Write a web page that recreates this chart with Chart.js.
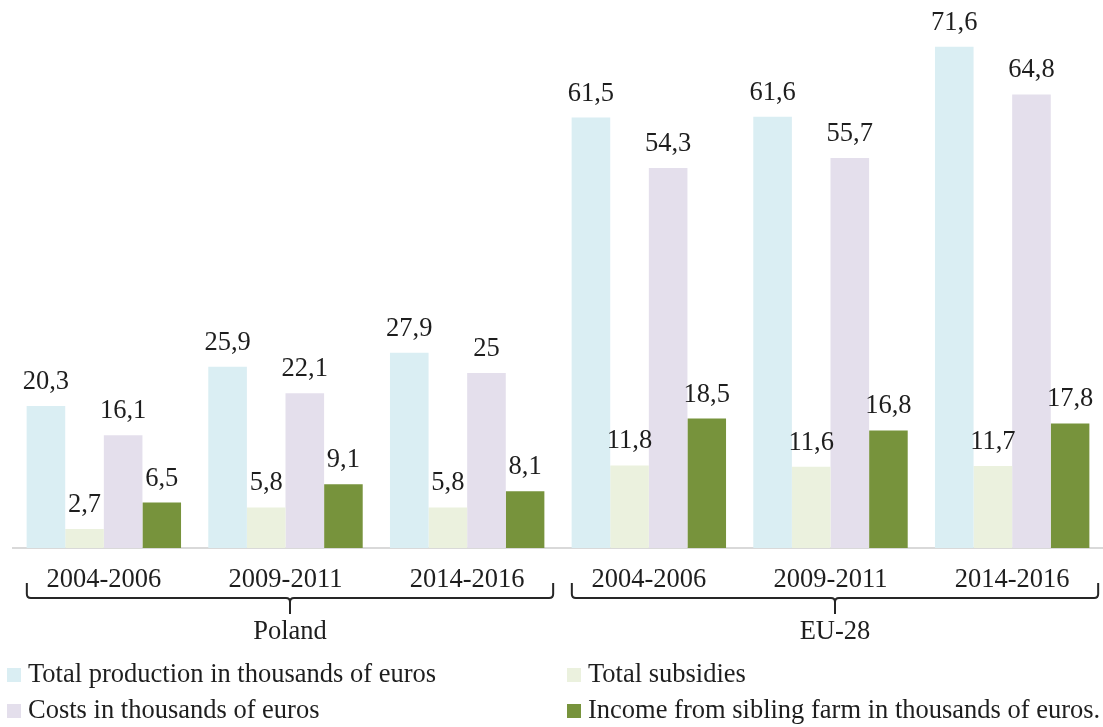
<!DOCTYPE html>
<html>
<head>
<meta charset="utf-8">
<script src="https://cdn.jsdelivr.net/npm/chart.js@4.4.1/dist/chart.umd.min.js"></script>
<style>
  html, body { margin: 0; padding: 0; background: #fff; }
  #wrap { width: 1103px; height: 727px; position: relative; }
</style>
</head>
<body>
<div id="wrap"><canvas id="chart"></canvas></div>
<script>
// Periods shown under each bar group
const periods = ['2004-2006', '2009-2011', '2014-2016', '2004-2006', '2009-2011', '2014-2016'];
// Regions spanning three periods each
const regions = ['Poland', 'EU-28'];
const regionSpans = [[0, 2], [3, 5]];

// Series values (thousands of euros)
const totalProduction = [20.3, 25.9, 27.9, 61.5, 61.6, 71.6];
const totalSubsidies  = [2.7, 5.8, 5.8, 11.8, 11.6, 11.7];
const costs           = [16.1, 22.1, 25, 54.3, 55.7, 64.8];
const farmIncome      = [6.5, 9.1, 8.1, 18.5, 16.8, 17.8];

const seriesNames = [
  'Total production in thousands of euros',
  'Total subsidies',
  'Costs in thousands of euros',
  'Income from sibling farm in thousands of euros.'
];
const seriesColors = ['#DAEEF3', '#EBF1DE', '#E4DFEC', '#77933C'];

const FONT = '26.5px "Liberation Serif", "Times New Roman", serif';
const INK = '#1e1e1e';

function fmt(v) { return String(v).replace('.', ','); }

// Value labels above bars, category labels, region braces and legend
const annotations = {
  id: 'annotations',
  afterDatasetsDraw(chart) {
    const ctx = chart.ctx;
    const x = chart.scales.x;
    ctx.save();
    ctx.font = FONT;
    ctx.fillStyle = INK;
    ctx.textAlign = 'center';
    ctx.textBaseline = 'alphabetic';

    // values
    chart.data.datasets.forEach((ds, di) => {
      const meta = chart.getDatasetMeta(di);
      meta.data.forEach((bar, i) => {
        ctx.fillText(fmt(ds.data[i]), bar.x, bar.y - 17);
      });
    });

    // period labels
    periods.forEach((p, i) => {
      ctx.fillText(p, x.getPixelForValue(i), 587);
    });

    // braces
    ctx.strokeStyle = '#262626';
    ctx.lineWidth = 2;
    const yLine = 598, yTop = 583, yTip = 614, r = 4;
    regionSpans.forEach((span, gi) => {
      const left = x.getPixelForValue(span[0]) - 77;
      const right = x.getPixelForValue(span[1]) + 86;
      const mid = (left + right) / 2;
      ctx.beginPath();
      ctx.moveTo(left, yTop);
      ctx.lineTo(left, yLine - r);
      ctx.quadraticCurveTo(left, yLine, left + r, yLine);
      ctx.lineTo(mid - r, yLine);
      ctx.quadraticCurveTo(mid, yLine, mid, yLine + r);
      ctx.lineTo(mid, yTip);
      ctx.moveTo(mid, yLine + r);
      ctx.quadraticCurveTo(mid, yLine, mid + r, yLine);
      ctx.lineTo(right - r, yLine);
      ctx.quadraticCurveTo(right, yLine, right, yLine - r);
      ctx.lineTo(right, yTop);
      ctx.stroke();
      ctx.fillText(regions[gi], mid, 639);
    });

    // legend (two columns, two rows)
    const cols = [7, 567];
    const rows = [682, 718];
    ctx.textAlign = 'left';
    seriesNames.forEach((name, i) => {
      const cx = cols[i % 2];
      const by = rows[Math.floor(i / 2)];
      ctx.fillStyle = seriesColors[i];
      ctx.fillRect(cx, by - 14, 14, 14);
      ctx.fillStyle = INK;
      ctx.fillText(name, cx + 21, by);
    });
    ctx.restore();
  }
};

const seriesData = [totalProduction, totalSubsidies, costs, farmIncome];

new Chart(document.getElementById('chart'), {
  type: 'bar',
  data: {
    labels: periods,
    datasets: seriesData.map((d, i) => ({
      label: seriesNames[i],
      data: d,
      backgroundColor: seriesColors[i],
      borderWidth: 0,
      categoryPercentage: 0.85,
      barPercentage: 1
    }))
  },
  options: {
    responsive: true,
    maintainAspectRatio: false,
    animation: false,
    layout: { padding: { left: 13, right: 0, top: 23, bottom: 0 } },
    plugins: {
      legend: { display: false },
      tooltip: { enabled: false }
    },
    scales: {
      x: {
        grid: { display: false },
        ticks: { display: false },
        border: { display: true, color: '#d9d9d9', width: 2 },
        afterFit(scale) { scale.height = 179; }
      },
      y: {
        display: false,
        min: 0,
        max: 75
      }
    }
  },
  plugins: [annotations]
});
</script>
</body>
</html>
